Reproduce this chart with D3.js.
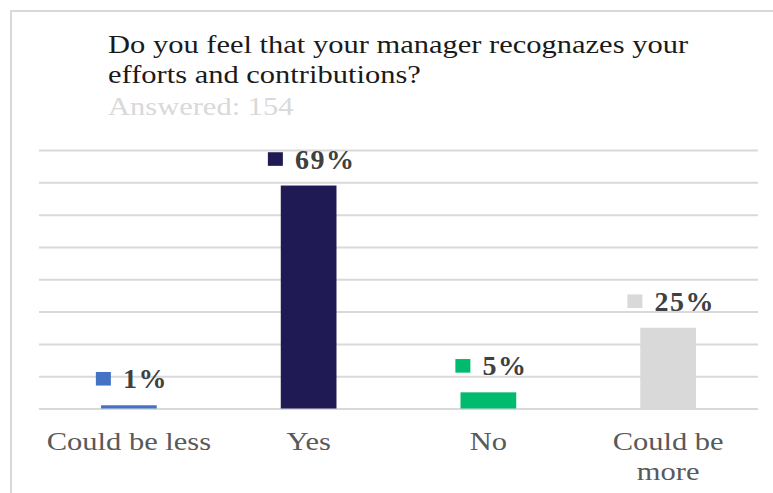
<!DOCTYPE html>
<html>
<head>
<meta charset="utf-8">
<script src="https://cdn.jsdelivr.net/npm/d3@7"></script>
<style>
  html, body { margin: 0; padding: 0; background: #ffffff; }
  svg { display: block; }
</style>
</head>
<body>
<svg id="chart" width="773" height="493"></svg>
<script>
// Survey results: share of respondents per answer (percent)
const categories = ["Could be less", "Yes", "No", "Could be more"];
const values = [1, 69, 5, 25];
const barColors = ["#4472C4", "#1F1A53", "#00BA6E", "#D9D9D9"];
const gridTicks = [0, 10, 20, 30, 40, 50, 60, 70, 80];
const titleLines = ["Do you feel that your manager recognazes your", "efforts and contributions?"];
const subtitle = "Answered: 154";

const svg = d3.select("#chart");
const serif = "'Liberation Serif', 'Times New Roman', serif";
// text in this chart is set slightly wide
const textSize = 25.5;
const stretch = 1.196;

// outer frame (its right and bottom edges fall outside the view)
svg.append("rect")
  .attr("x", 11).attr("y", 11)
  .attr("width", 820).attr("height", 520)
  .attr("fill", "none")
  .attr("stroke", "#d9d9d9")
  .attr("stroke-width", 2);

// title block
const title = svg.append("g").attr("font-family", serif).attr("font-size", textSize);
titleLines.forEach((t, i) => {
  title.append("text")
    .attr("transform", `translate(108,${53 + i * 29.5}) scale(${stretch},1)`)
    .attr("fill", "#1a1a1a")
    .text(t);
});
title.append("text")
  .attr("transform", `translate(108,115) scale(${stretch},1)`)
  .attr("fill", "#d9d9d9")
  .text(subtitle);

// scales
const x = d3.scaleBand()
  .domain(categories)
  .range([39, 758])
  .paddingInner(0.69)
  .paddingOuter(0.345);

const y = d3.scaleLinear()
  .domain([0, 80])
  .range([408.5, 150]);

// horizontal gridlines
svg.append("g")
  .attr("transform", "translate(39,0)")
  .call(d3.axisLeft(y).tickValues(gridTicks).tickSize(-(758 - 39)).tickFormat(""))
  .call(g => g.select(".domain").remove())
  .call(g => g.selectAll(".tick line")
    .attr("stroke", "#d9d9d9")
    .attr("stroke-width", 2));

// bars
svg.append("g")
  .selectAll("rect")
  .data(values)
  .join("rect")
  .attr("x", (d, i) => x(categories[i]))
  .attr("y", d => y(d))
  .attr("width", x.bandwidth())
  .attr("height", d => y(0) - y(d))
  .attr("fill", (d, i) => barColors[i]);

// value labels with a colour key square
const labels = svg.append("g")
  .selectAll("g")
  .data(values)
  .join("g");

labels.each(function (d, i) {
  const g = d3.select(this);
  const base = y(d) - 17;
  const txt = g.append("text")
    .attr("font-family", serif)
    .attr("font-weight", "bold")
    .attr("font-size", 28)
    .attr("letter-spacing", 1.5)
    .attr("fill", "#404040")
    .attr("y", base)
    .text(d + "%");
  const tw = txt.node().getComputedTextLength();
  const sq = 15, gap = 12;
  const total = sq + gap + tw;
  const cx = x(categories[i]) + x.bandwidth() / 2 + 3;
  const left = cx - total / 2;
  g.append("rect")
    .attr("x", left).attr("y", base - 16.3)
    .attr("width", sq).attr("height", 13.6)
    .attr("fill", barColors[i]);
  txt.attr("x", left + sq + gap);
});

// category labels, wrapped where the band is too narrow
const catLines = { "Could be more": ["Could be", "more"] };
const catGroup = svg.append("g")
  .attr("font-family", serif)
  .attr("font-size", textSize)
  .attr("fill", "#595959")
  .attr("text-anchor", "middle");

categories.forEach(c => {
  const lines = catLines[c] || [c];
  lines.forEach((l, k) => {
    catGroup.append("text")
      .attr("transform", `translate(${x(c) + x.bandwidth() / 2},${450 + k * 29.5}) scale(${stretch},1)`)
      .text(l);
  });
});
</script>
</body>
</html>
